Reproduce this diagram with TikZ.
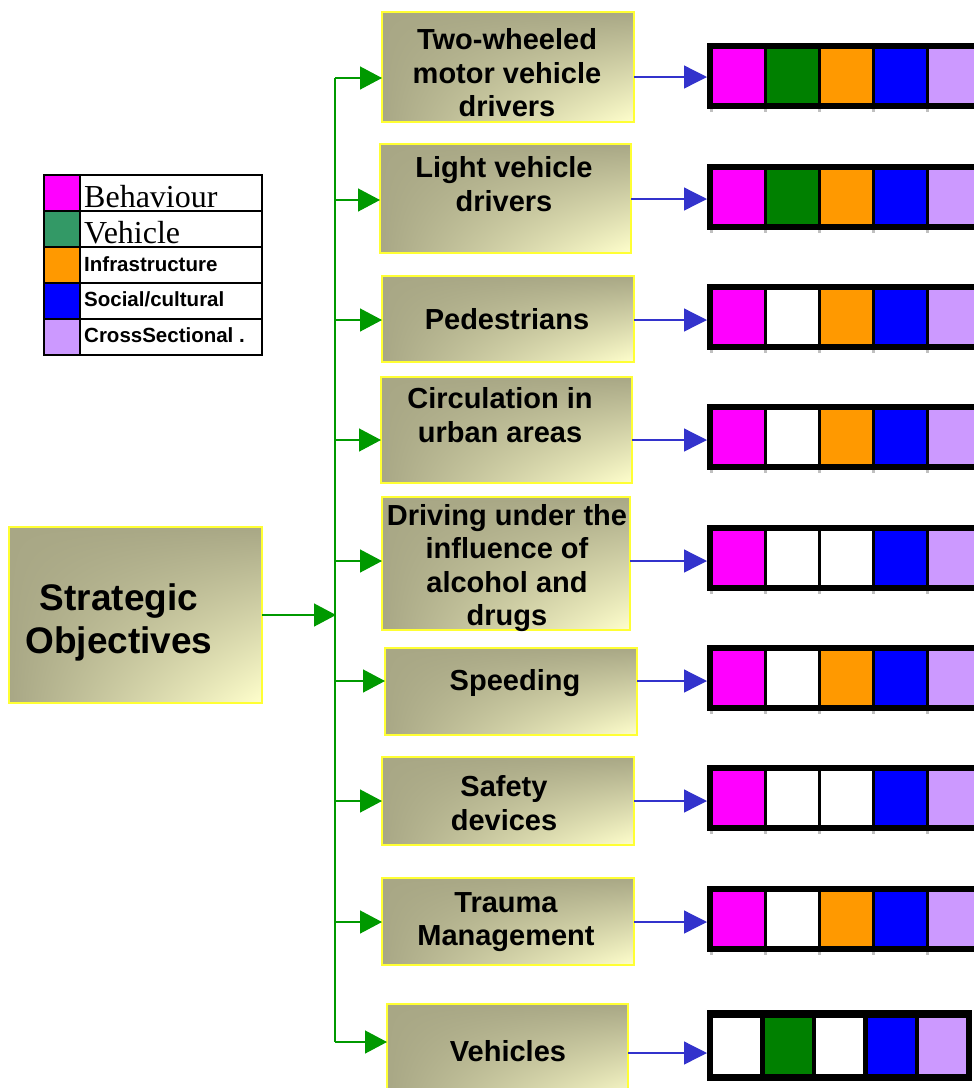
\documentclass[tikz,border=0pt]{standalone}
\usepackage{fontspec}
\setmainfont{Liberation Sans}
\newfontfamily\legserif{Liberation Serif}
\usetikzlibrary{arrows.meta}

\definecolor{boxedge}{HTML}{FFFF33}
\definecolor{gline}{HTML}{009900}
\definecolor{bline}{HTML}{3333CC}
\definecolor{cbeh}{HTML}{FF00FF}
\definecolor{cveh}{HTML}{008000}
\definecolor{clegveh}{HTML}{339966}
\definecolor{cinf}{HTML}{FF9900}
\definecolor{csoc}{HTML}{0000FF}
\definecolor{ccro}{HTML}{CC99FF}
\definecolor{tickgray}{HTML}{C0C0C0}

% olive in the upper left, pale yellow towards the lower right corner
\pgfdeclarefunctionalshading{cornershade}{\pgfpoint{-50bp}{-50bp}}{\pgfpoint{50bp}{50bp}}{}{
  25 exch sub 50 div
  exch 25 add 50 div
  mul
  dup 0 lt {pop 0} if
  dup 1 gt {pop 1} if
  dup 0.341 mul 0.659 add exch
  dup 0.345 mul 0.655 add exch
  0.278 mul 0.522 add
}

\tikzset{
  objbox/.style={draw=boxedge, line width=1.3pt, shading=cornershade,
    inner sep=0pt, outer sep=0pt, anchor=north west},
  objtext/.style={font=\fontsize{29}{33.5}\selectfont\bfseries, align=center, inner sep=0pt},
  garrow/.style={draw=gline, line width=1.4pt, -{Triangle[length=22pt,width=23pt]}},
  gtrunk/.style={draw=gline, line width=1.4pt},
  barrow/.style={draw=bline, line width=1.3pt, -{Triangle[length=23pt,width=23pt]}},
  frame/.style={fill=black, inner sep=0pt, outer sep=0pt, anchor=north west,
    minimum width=282pt, minimum height=66pt},
  cell/.style={inner sep=0pt, outer sep=0pt, anchor=north west,
    minimum width=51pt, minimum height=54pt},
  tickmark/.style={fill=tickgray, inner sep=0pt, minimum width=3pt, minimum height=3pt, anchor=north},
  legsw/.style={draw=black, line width=2pt, inner sep=0pt, anchor=north west,
    minimum width=36pt, minimum height=36pt},
  legcell/.style={draw=black, line width=2pt, inner sep=0pt, anchor=north west,
    minimum width=182pt, minimum height=36pt},
  legbig/.style={font=\legserif\fontsize{32}{32}\selectfont, inner sep=0pt, anchor=base west},
  legsmall/.style={font=\fontsize{20.5}{21}\selectfont\bfseries, inner sep=0pt, anchor=west},
}

% one strip of five coloured cells in a black frame
\newcommand\catstrip[3]{%
  \node[frame] (bar#1) at (707,#2) {};
  \foreach \c [count=\i from 0] in {#3} {
    \node[cell, fill=\c] (bar#1c\i) at ({713+54*\i},{#2+6}) {};
    \node[tickmark] (bar#1t\i) at ({711.5+54*\i},{#2+66}) {};
  }%
}

\begin{document}
\begin{tikzpicture}[x=1pt, y=-1pt]
\useasboundingbox (0,0) rectangle (974,1088);
\clip (0,0) rectangle (974,1088);

% legend
\foreach \col [count=\k from 0] in {cbeh,clegveh,cinf,csoc,ccro} {
  \node[legsw, fill=\col] (sw\k) at (43,{174+36*\k}) {};
  \node[legcell] (lc\k) at (79,{174+36*\k}) {};
}
\node[legbig] (lt0) at (84,207) {Behaviour};
\node[legbig] (lt1) at (84,243) {Vehicle};
\node[legsmall] (lt2) at (84,264) {Infrastructure};
\node[legsmall] (lt3) at (84,299) {Social/cultural};
\node[legsmall] (lt4) at (84,335) {CrossSectional .};

% root box
\node[objbox, minimum width=253pt, minimum height=176pt] (so) at (9,527) {};
\node[objtext, font=\fontsize{37}{43}\selectfont\bfseries] (sot) at (119,622) {Strategic\\Objectives};

% objective boxes
\node[objbox, minimum width=252pt, minimum height=110pt] (b1) at (382,12) {};
\node[objbox, minimum width=251pt, minimum height=109pt] (b2) at (380,144) {};
\node[objbox, minimum width=252pt, minimum height=86pt]  (b3) at (382,276) {};
\node[objbox, minimum width=251pt, minimum height=106pt] (b4) at (381,377) {};
\node[objbox, minimum width=248pt, minimum height=133pt] (b5) at (382,497) {};
\node[objbox, minimum width=252pt, minimum height=87pt]  (b6) at (385,648) {};
\node[objbox, minimum width=252pt, minimum height=88pt]  (b7) at (382,757) {};
\node[objbox, minimum width=252pt, minimum height=87pt]  (b8) at (382,878) {};
\node[objbox, minimum width=241pt, minimum height=100pt] (b9) at (387,1004) {};

\node[objtext] (t1) at (507,73)  {Two-wheeled\\motor vehicle\\drivers};
\node[objtext] (t2) at (504,184) {Light vehicle\\drivers};
\node[objtext] (t3) at (507,319) {Pedestrians};
\node[objtext] (t4) at (500,415) {Circulation in\\urban areas};
\node[objtext] (t5) at (507,568) {Driving under the\\influence of\\alcohol and\\drugs};
\node[objtext] (t6) at (515,683) {Speeding};
\node[objtext] (t7) at (504,803) {Safety\\devices};
\node[objtext] (t8) at (506,922) {Trauma\\Management};
\node[objtext] (t9) at (508,1051) {Vehicles};

% category strips
\catstrip{1}{43}{cbeh,cveh,cinf,csoc,ccro}
\catstrip{2}{164}{cbeh,cveh,cinf,csoc,ccro}
\catstrip{3}{284}{cbeh,white,cinf,csoc,ccro}
\catstrip{4}{404}{cbeh,white,cinf,csoc,ccro}
\catstrip{5}{525}{cbeh,white,white,csoc,ccro}
\catstrip{6}{645}{cbeh,white,cinf,csoc,ccro}
\catstrip{7}{765}{cbeh,white,white,csoc,ccro}
\catstrip{8}{886}{cbeh,white,cinf,csoc,ccro}
\node[frame, minimum width=265pt, minimum height=71pt] (bar9) at (707,1010) {};
\foreach \c [count=\i from 0] in {white,cveh,white,csoc,ccro} {
  \node[cell, fill=\c, minimum width=47pt, minimum height=56pt] (bar9c\i) at ({713+51.6*\i},1018) {};
}

% green tree
\coordinate (g1) at (335,78);
\coordinate (g2) at (335,200);
\coordinate (g3) at (335,320);
\coordinate (g4) at (335,440);
\coordinate (g5) at (335,561);
\coordinate (g6) at (335,681);
\coordinate (g7) at (335,801);
\coordinate (g8) at (335,922);
\coordinate (g9) at (335,1042);
\coordinate (hub) at (336,615);
\draw[gtrunk] (g1) -- (g9);
\draw[garrow] (so.east |- hub) -- (hub);
\foreach \k in {1,...,9} {
  \draw[garrow] (g\k) -- (b\k.west |- g\k);
}

% blue links to the strips
\draw[barrow] (b1.east |- 0,77)   -- (bar1.west |- 0,77);
\draw[barrow] (b2.east |- 0,199)  -- (bar2.west |- 0,199);
\draw[barrow] (b3.east |- 0,320)  -- (bar3.west |- 0,320);
\draw[barrow] (b4.east |- 0,440)  -- (bar4.west |- 0,440);
\draw[barrow] (b5.east |- 0,561)  -- (bar5.west |- 0,561);
\draw[barrow] (b6.east |- 0,681)  -- (bar6.west |- 0,681);
\draw[barrow] (b7.east |- 0,801)  -- (bar7.west |- 0,801);
\draw[barrow] (b8.east |- 0,922)  -- (bar8.west |- 0,922);
\draw[barrow] (b9.east |- 0,1053) -- (bar9.west |- 0,1053);
\end{tikzpicture}
\end{document}
